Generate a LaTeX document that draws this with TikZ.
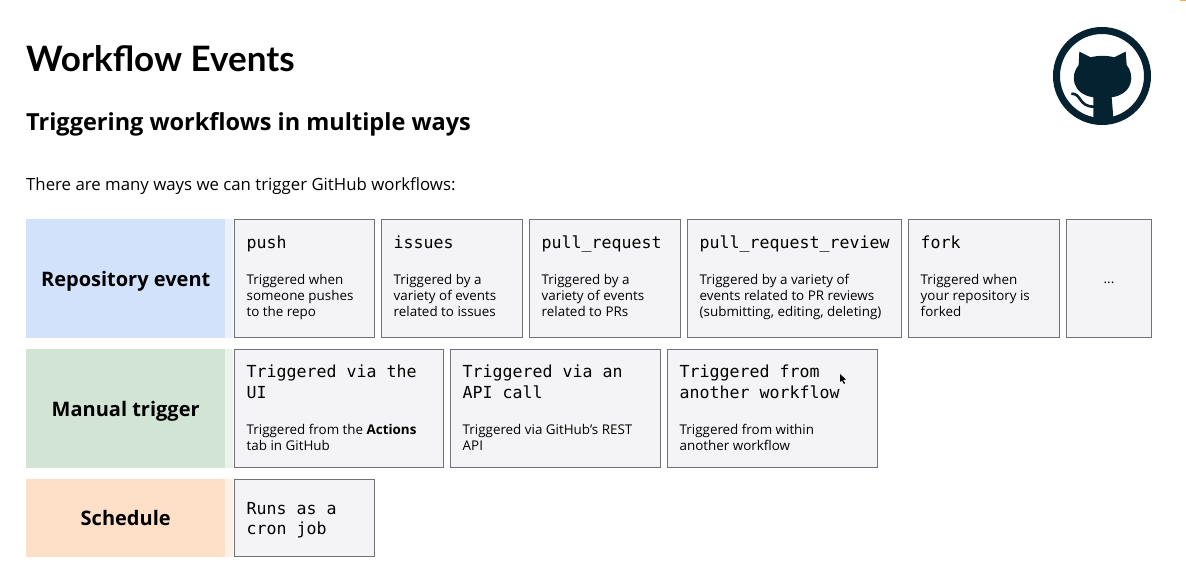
\documentclass[tikz,border=0pt]{standalone}
\usepackage{fontspec}
\setmainfont{Open Sans}
\newfontfamily\headfont{Lato}
\newfontfamily\codefont{DejaVu Sans Mono}
\usetikzlibrary{positioning}
\definecolor{repoblue}{HTML}{D3E2FB}
\definecolor{manualgreen}{HTML}{D2E4D3}
\definecolor{schedorange}{HTML}{FEE0C8}
\definecolor{boxgray}{HTML}{F4F4F6}
\definecolor{boxline}{HTML}{6F7378}
\definecolor{logoink}{HTML}{04222F}
\tikzset{
  titletxt/.style={inner sep=0pt, anchor=west, font=\headfont\bfseries\fontsize{35}{40}\selectfont},
  subtxt/.style={inner sep=0pt, anchor=west, font=\bfseries\fontsize{23.5}{28}\selectfont},
  introtxt/.style={inner sep=0pt, anchor=west, font=\fontsize{16.8}{20}\selectfont},
  catbox/.style={anchor=north west, inner sep=0pt, text height=15.5pt, text depth=0pt, font=\bfseries\fontsize{20}{24}\selectfont},
  stripbox/.style={anchor=north west, inner sep=0pt, minimum width=8pt},
  evbox/.style={draw=boxline, line width=1.4pt, fill=boxgray, anchor=north west, inner sep=0pt},
  codesm/.style={inner sep=0pt, align=left, font=\codefont\fontsize{16.6}{20.4}\selectfont},
  bodytxt/.style={inner sep=0pt, align=left, font=\fontsize{13.4}{16.1}\selectfont},
}
\begin{document}
\begin{tikzpicture}[x=1pt, y=-1pt]
  \useasboundingbox (0,0) rectangle (1186,580);
  \fill [orange!70] (1180,0) rectangle (1186,1);
  % headings
  \node [titletxt] (title) at (26,59) {Workflow Events};
  \node [subtxt] (subtitle) at (26,124.5) {Triggering workflows in multiple ways};
  \node [introtxt] (intro) at (26,186) {There are many ways we can trigger GitHub workflows:};
  % logo
  \node [circle, draw=logoink, line width=7pt, minimum size=91pt, inner sep=0pt] (logo) at (1102,76) {};
  \begin{scope}[shift={(1030,10)}, x=.3333pt, y=-.3333pt]
    \fill [logoink] (148,125) -- (182,142) .. controls (205,136) and (230,136) .. (253,142) -- (287,125)
      -- (290,165) .. controls (315,195) and (310,252) .. (245,262) -- (250,322) -- (190,338) -- (190,262)
      .. controls (125,252) and (120,195) .. (146,165) -- cycle;
    \draw [logoink, line width=2.6pt] (124,251) .. controls (155,250) and (145,290) .. (192,290);
  \end{scope}
  % category bands
  \node [catbox, fill=repoblue, minimum width=199pt, minimum height=119pt] (repo) at (26,219) {Repository event};
  \node [catbox, fill=manualgreen, minimum width=199pt, minimum height=119pt] (manual) at (26,349) {Manual trigger};
  \node [catbox, fill=schedorange, minimum width=199pt, minimum height=78pt] (sched) at (26,479) {Schedule};
  \node [stripbox, fill=repoblue!45, minimum height=119pt] (repostrip) at (225,219) {};
  \node [stripbox, fill=manualgreen!45, minimum height=119pt] (manualstrip) at (225,349) {};
  \node [stripbox, fill=schedorange!45, minimum height=78pt] (schedstrip) at (225,479) {};
  % first row
  \node [evbox, minimum width=140pt, minimum height=118pt] (push) at (234,219) {};
  \node [evbox, minimum width=141pt, minimum height=118pt] (issues) at (381,219) {};
  \node [evbox, minimum width=151pt, minimum height=118pt] (pullreq) at (529,219) {};
  \node [evbox, minimum width=214pt, minimum height=118pt] (prreview) at (687,219) {};
  \node [evbox, minimum width=151pt, minimum height=118pt] (fork) at (908,219) {};
  \node [evbox, minimum width=85pt, minimum height=118pt] (more) at (1066,219) {};
  \node [codesm, below right=16.5pt and 12.5pt of push.north west] (pushhead) {push};
  \node [codesm, below right=16.5pt and 12.5pt of issues.north west] (issueshead) {issues};
  \node [codesm, below right=16.5pt and 12.5pt of pullreq.north west] (pullreqhead) {pull\_request};
  \node [codesm, below right=16.5pt and 12.5pt of prreview.north west] (prreviewhead) {pull\_request\_review};
  \node [codesm, below right=16.5pt and 12.5pt of fork.north west] (forkhead) {fork};
  \node [bodytxt, below right=55pt and 12.5pt of push.north west] (pushtxt) {Triggered when\\someone pushes\\to the repo};
  \node [bodytxt, below right=55pt and 12.5pt of issues.north west] (issuestxt) {Triggered by a\\variety of events\\related to issues};
  \node [bodytxt, below right=55pt and 12.5pt of pullreq.north west] (pullreqtxt) {Triggered by a\\variety of events\\related to PRs};
  \node [bodytxt, below right=55pt and 12.5pt of prreview.north west] (prreviewtxt) {Triggered by a variety of\\events related to PR reviews\\(submitting, editing, deleting)};
  \node [bodytxt, below right=55pt and 12.5pt of fork.north west] (forktxt) {Triggered when\\your repository is\\forked};
  \node [bodytxt] (moretxt) at (1109,283) {...};
  % second row
  \node [evbox, minimum width=209pt, minimum height=118pt] (viaui) at (234,349) {};
  \node [evbox, minimum width=210pt, minimum height=118pt] (viaapi) at (450,349) {};
  \node [evbox, minimum width=210pt, minimum height=118pt] (viaflow) at (667,349) {};
  \node [codesm, below right=16pt and 12.5pt of viaui.north west] (viauihead) {Triggered via the\\UI};
  \node [codesm, below right=16pt and 12.5pt of viaapi.north west] (viaapihead) {Triggered via an\\API call};
  \node [codesm, below right=16pt and 12.5pt of viaflow.north west] (viaflowhead) {Triggered from\\another workflow};
  \node [bodytxt, below right=75pt and 12.5pt of viaui.north west] (viauitxt) {Triggered from the \textbf{Actions}\\tab in GitHub};
  \node [bodytxt, below right=75pt and 12.5pt of viaapi.north west] (viaapitxt) {Triggered via GitHub's REST\\API};
  \node [bodytxt, below right=75pt and 12.5pt of viaflow.north west] (viaflowtxt) {Triggered from within\\another workflow};
  % third row
  \node [evbox, minimum width=140pt, minimum height=77pt] (cron) at (234,479) {};
  \node [codesm, below right=23pt and 12.5pt of cron.north west] (cronhead) {Runs as a\\cron job};
  % pointer
  \fill [black] (840,374) -- (840,382) -- (842,380.5) -- (844,384) -- (845,383) -- (843,380) -- (846,379.5) -- cycle;
\end{tikzpicture}
\end{document}
